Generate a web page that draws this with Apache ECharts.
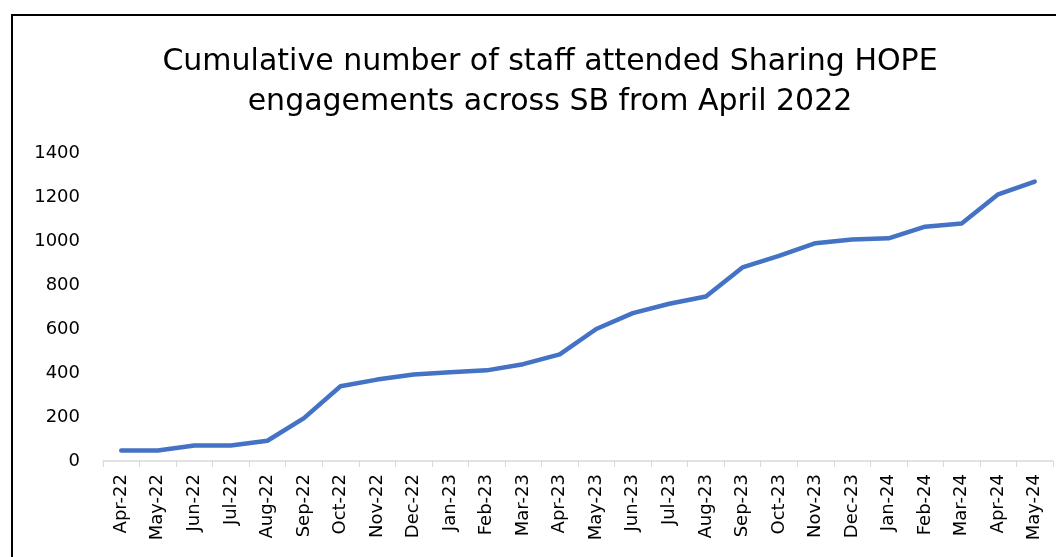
<!DOCTYPE html>
<html>
<head>
<meta charset="utf-8">
<script src="https://cdn.jsdelivr.net/npm/echarts@6/dist/echarts.min.js"></script>
<style>
  html, body { margin: 0; padding: 0; background: #fff; }
  #chart { width: 1056px; height: 557px; }
</style>
</head>
<body>
<div id="chart"></div>
<script>
  // months shown on the x axis
  const months = [
    'Apr-22', 'May-22', 'Jun-22', 'Jul-22', 'Aug-22', 'Sep-22', 'Oct-22', 'Nov-22',
    'Dec-22', 'Jan-23', 'Feb-23', 'Mar-23', 'Apr-23', 'May-23', 'Jun-23', 'Jul-23',
    'Aug-23', 'Sep-23', 'Oct-23', 'Nov-23', 'Dec-23', 'Jan-24', 'Feb-24', 'Mar-24',
    'Apr-24', 'May-24'
  ];

  // cumulative staff count
  const staffCount = [
    48, 48, 70, 70, 92, 195, 340, 370, 393, 403, 412, 440, 485,
    600, 672, 715, 748, 880, 932, 990, 1007, 1012, 1065, 1080, 1212, 1270
  ];

  const titleText = 'Cumulative number of staff attended Sharing HOPE\nengagements across SB from April 2022';

  const chart = echarts.init(document.getElementById('chart'));

  const options = {
    animation: false,
    backgroundColor: '#fff',
    title: {
      text: titleText,
      left: 545,
      top: 37,
      textAlign: 'center',
      textStyle: {
        fontFamily: 'DejaVu Sans',
        fontSize: 30,
        fontWeight: 'normal',
        color: '#000',
        lineHeight: 40
      }
    },
    graphic: [
      {
        type: 'polyline',
        shape: { points: [[12, 557], [12, 15], [1056, 15]] },
        style: { stroke: '#000', lineWidth: 2, fill: null }
      }
    ],
    grid: {
      left: 103,
      right: 3,
      top: 153,
      bottom: 96
    },
    xAxis: {
      type: 'category',
      data: months,
      boundaryGap: true,
      axisLine: { lineStyle: { color: '#d9d9d9', width: 1.5 } },
      axisTick: { show: true, alignWithLabel: false, length: 6, lineStyle: { color: '#d9d9d9' } },
      axisLabel: {
        rotate: 90,
        interval: 0,
        margin: 13,
        fontFamily: 'DejaVu Sans',
        fontSize: 18,
        color: '#000'
      },
      splitLine: { show: false }
    },
    yAxis: {
      type: 'value',
      min: 0,
      max: 1400,
      interval: 200,
      axisLine: { show: false },
      axisTick: { show: false },
      splitLine: { show: false },
      axisLabel: {
        margin: 23,
        fontFamily: 'DejaVu Sans',
        fontSize: 18,
        color: '#000',
        formatter: (v) => String(v)
      }
    },
    series: [
      {
        name: 'Staff',
        type: 'line',
        data: staffCount,
        showSymbol: false,
        lineStyle: { color: '#4472C4', width: 4.5, cap: 'round', join: 'round' }
      }
    ]
  };

  chart.setOption(options);
</script>
</body>
</html>
